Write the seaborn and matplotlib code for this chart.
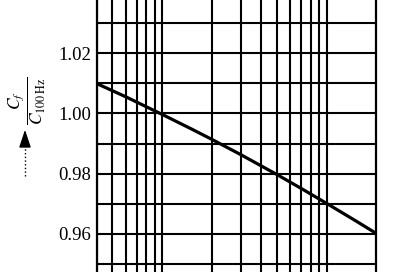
import matplotlib
matplotlib.use("Agg")
import matplotlib.pyplot as plt
import seaborn as sns
from matplotlib.lines import Line2D
from matplotlib.ticker import NullFormatter, NullLocator

# Data (frequency in Hz, capacitance ratio C_f / C_100Hz)
freq = [40, 60, 100, 150, 200, 300, 500, 700, 1000, 1500, 2000]
ratio = [1.010, 1.0056, 0.9997, 0.9949, 0.9914, 0.9863, 0.9796, 0.9750, 0.9700, 0.9642, 0.9600]

# Axis configuration
x_grid = [40, 50, 60, 70, 80, 90, 100, 200, 300, 400, 500, 600, 700, 800, 900, 1000, 2000]
y_grid = [0.95, 0.96, 0.97, 0.98, 0.99, 1.00, 1.01, 1.02, 1.03]
y_labels = [0.96, 0.98, 1.00, 1.02]

sns.set_theme(style="white")
plt.rcParams["font.family"] = ["Liberation Serif", "DejaVu Serif"]
plt.rcParams["mathtext.fontset"] = "stix"

fig = plt.figure(figsize=(4.0, 2.72), dpi=100)
fig.patch.set_facecolor("white")
ax = fig.add_axes([96.5 / 400, 0.0, 280 / 400, 1.0])
ax.set_facecolor("white")
ax.set_xscale("log")

sns.lineplot(x=freq, y=ratio, ax=ax, color="black", linewidth=2.3, zorder=5)

ax.set_xlim(40, 2000)
ax.set_ylim(0.9472, 1.0378)

# grid lines
for gx in x_grid:
    ax.axvline(gx, color="black", linewidth=1.5, zorder=2)
for gy in y_grid:
    ax.axhline(gy, color="black", linewidth=1.5, zorder=2)

ax.xaxis.set_major_locator(NullLocator())
ax.xaxis.set_minor_locator(NullLocator())
ax.xaxis.set_major_formatter(NullFormatter())
ax.set_yticks(y_labels)
ax.set_yticklabels([f"{v:.2f}" for v in y_labels])
ax.tick_params(axis="y", length=0, pad=4, labelsize=13.5, labelcolor="black")
ax.grid(False)

for side in ("top", "bottom"):
    ax.spines[side].set_visible(False)
for side in ("left", "right"):
    ax.spines[side].set_visible(True)
    ax.spines[side].set_color("black")
    ax.spines[side].set_linewidth(1.6)

ax.set_xlabel("")
ax.set_ylabel("")

# rotated y-axis label: fraction with arrow
fig.text(27 / 400, 1 - 101 / 272, r"$\dfrac{C_f}{C_{100\,\mathrm{Hz}}}$", rotation=90,
         ha="center", va="center", fontsize=12.5, color="black")
fig.add_artist(Line2D([25 / 400, 25 / 400], [1 - 176 / 272, 1 - 136 / 272],
                      transform=fig.transFigure, color="black", linestyle=":", linewidth=1.0))
ax.annotate("", xy=(25, 272 - 127), xytext=(25, 272 - 141), xycoords="figure pixels",
            textcoords="figure pixels",
            arrowprops=dict(arrowstyle="-|>,head_length=0.9,head_width=0.3", color="black", lw=1.0))

fig.savefig("out.png", dpi=100, facecolor="white")
